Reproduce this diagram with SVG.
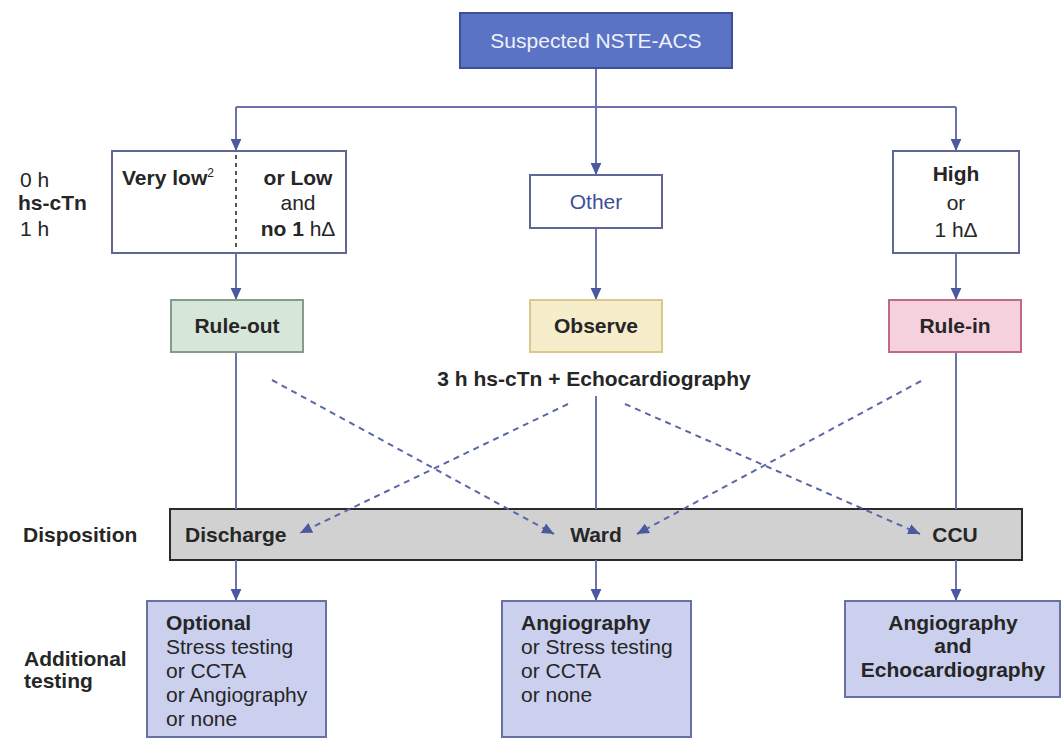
<svg xmlns="http://www.w3.org/2000/svg" width="1063" height="739" viewBox="0 0 1063 739">
<style>
text{font-family:"Liberation Sans",Arial,sans-serif;font-size:21px;fill:#262626}
.b{font-weight:bold}
.c{text-anchor:middle}
.ln{stroke:#6b72ad;stroke-width:2;fill:none}
.ds{stroke:#5a67a8;stroke-width:2;fill:none;stroke-dasharray:6 5}
.wb{fill:#ffffff;stroke:#5f6796;stroke-width:2}
.tb{fill:#ccd0ef;stroke:#6a70a4;stroke-width:2}
</style>
<defs>
<marker id="ah" viewBox="0 0 10 10" refX="10" refY="5" markerWidth="12" markerHeight="12" markerUnits="userSpaceOnUse" orient="auto">
<path d="M0,0.5 L10,5 L0,9.5 z" fill="#4b5aa0"/>
</marker>
</defs>
<rect width="1063" height="739" fill="#ffffff"/>

<g id="n-disposition">
<rect x="170" y="509" width="852" height="51" fill="#d1d1d1" stroke="#2b2b2b" stroke-width="2"/>
<text x="185" y="542" class="b">Discharge</text>
<text x="596" y="542" class="b c">Ward</text>
<text x="955" y="542" class="b c">CCU</text>
</g>

<g id="connectors">
<path class="ln" d="M596 68 V175" marker-end="url(#ah)"/>
<path class="ln" d="M236 107 H956"/>
<path class="ln" d="M236 107 V151" marker-end="url(#ah)"/>
<path class="ln" d="M956 107 V151" marker-end="url(#ah)"/>
<path class="ln" d="M236 253 V300" marker-end="url(#ah)"/>
<path class="ln" d="M596 228 V300" marker-end="url(#ah)"/>
<path class="ln" d="M956 253 V300" marker-end="url(#ah)"/>
<path class="ln" d="M236 352 V509"/>
<path class="ln" d="M596 396 V509"/>
<path class="ln" d="M956 352 V509"/>
<path class="ln" d="M236 560 V601" marker-end="url(#ah)"/>
<path class="ln" d="M596 560 V601" marker-end="url(#ah)"/>
<path class="ln" d="M956 560 V601" marker-end="url(#ah)"/>
<path class="ds" d="M272 380 L554 534" marker-end="url(#ah)"/>
<path class="ds" d="M568 404 L300 533" marker-end="url(#ah)"/>
<path class="ds" d="M625 404 L920 534" marker-end="url(#ah)"/>
<path class="ds" d="M921 381 L637 534" marker-end="url(#ah)"/>
</g>

<g id="labels">
<text x="20" y="187">0 h</text>
<text x="18" y="210" class="b">hs-cTn</text>
<text x="20" y="236">1 h</text>
<text x="23" y="542" class="b">Disposition</text>
<text x="24" y="666" class="b">Additional</text>
<text x="24" y="688" class="b">testing</text>
</g>

<g id="n-suspected">
<rect x="460" y="13" width="272" height="55" fill="#5b73c4" stroke="#3e4e98" stroke-width="2"/>
<text x="596" y="48" class="c" style="fill:#eef1fb">Suspected NSTE-ACS</text>
</g>

<g id="n-verylow">
<rect class="wb" x="112" y="151" width="234" height="102"/>
<line x1="236" y1="155" x2="236" y2="250" stroke="#555" stroke-width="2" stroke-dasharray="4 4"/>
<text x="122" y="185" class="b">Very low<tspan font-size="12" font-weight="normal" dy="-8">2</tspan></text>
<text x="298" y="185" class="b c">or Low</text>
<text x="298" y="210" class="c">and</text>
<text x="298" y="236" class="c"><tspan class="b">no 1</tspan> hΔ</text>
</g>

<g id="n-other">
<rect class="wb" x="530" y="175" width="132" height="53"/>
<text x="596" y="209" class="c" style="fill:#3d4f98">Other</text>
</g>

<g id="n-high">
<rect class="wb" x="893" y="151" width="126" height="102"/>
<text x="956" y="181" class="b c">High</text>
<text x="956" y="210" class="c">or</text>
<text x="956" y="237" class="c">1 hΔ</text>
</g>

<g id="n-ruleout">
<rect x="171" y="300" width="132" height="52" fill="#d6e6d9" stroke="#859c89" stroke-width="2"/>
<text x="237" y="333" class="b c">Rule-out</text>
</g>

<g id="n-observe">
<rect x="530" y="300" width="132" height="52" fill="#f6edcb" stroke="#dcc88e" stroke-width="2"/>
<text x="596" y="333" class="b c">Observe</text>
</g>

<g id="n-rulein">
<rect x="889" y="300" width="132" height="52" fill="#f4d1dc" stroke="#c06b84" stroke-width="2"/>
<text x="955" y="333" class="b c">Rule-in</text>
</g>

<g id="n-echo-note">
<text x="594" y="386" class="b c">3 h hs-cTn + Echocardiography</text>
</g>

<g id="n-test-left">
<rect class="tb" x="147" y="601" width="179" height="136"/>
<text x="166" y="630" class="b">Optional</text>
<text x="166" y="654">Stress testing</text>
<text x="166" y="678">or CCTA</text>
<text x="166" y="702">or Angiography</text>
<text x="166" y="726">or none</text>
</g>

<g id="n-test-mid">
<rect class="tb" x="502" y="601" width="189" height="136"/>
<text x="521" y="630" class="b">Angiography</text>
<text x="521" y="654">or Stress testing</text>
<text x="521" y="678">or CCTA</text>
<text x="521" y="702">or none</text>
</g>

<g id="n-test-right">
<rect class="tb" x="845" y="601" width="215" height="96"/>
<text x="953" y="630" class="b c">Angiography</text>
<text x="953" y="653" class="b c">and</text>
<text x="953" y="677" class="b c">Echocardiography</text>
</g>
</svg>
